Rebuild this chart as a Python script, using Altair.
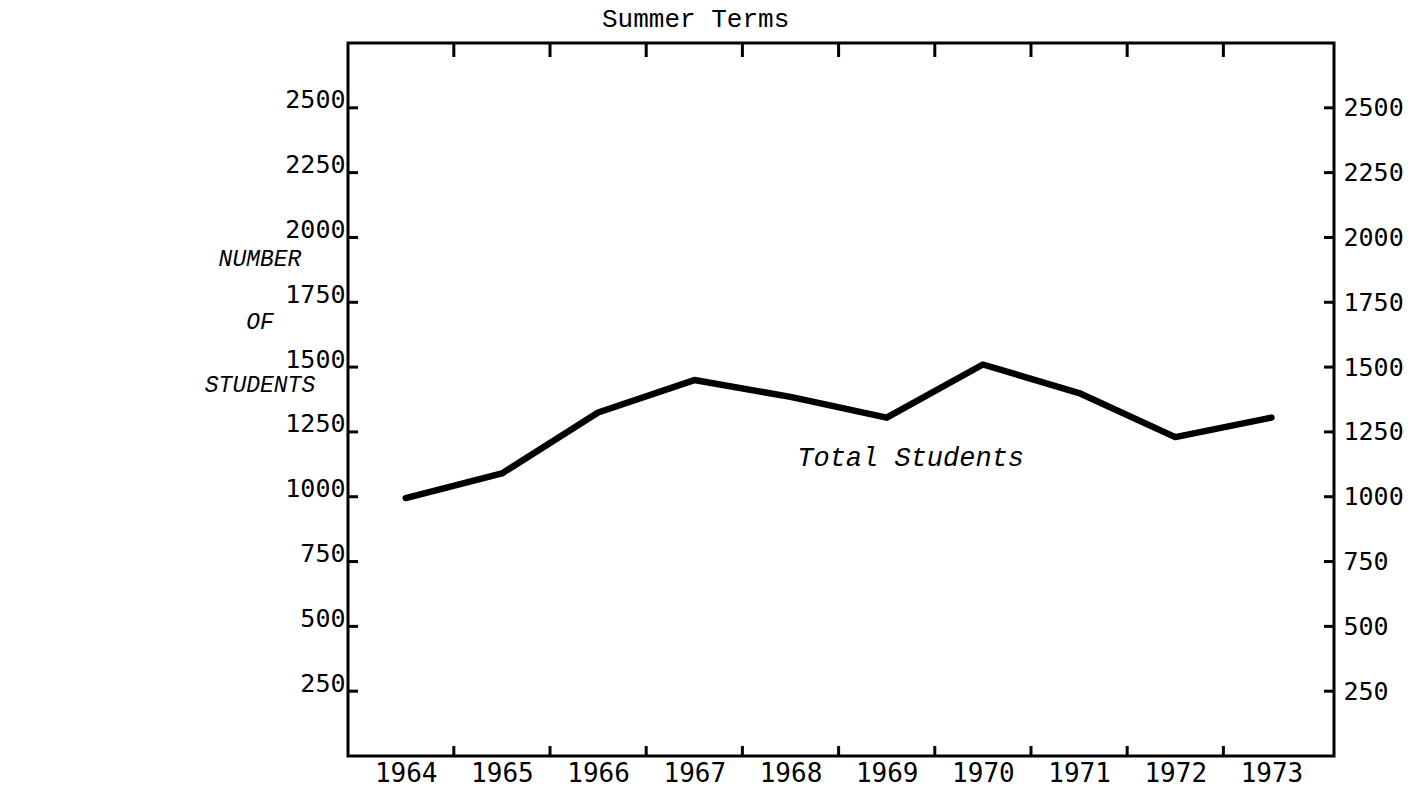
import altair as alt
import pandas as pd

# ---- data ----
years = [1964, 1965, 1966, 1967, 1968, 1969, 1970, 1971, 1972, 1973]
students = [995, 1090, 1325, 1450, 1385, 1305, 1510, 1400, 1230, 1305]
y_tick_values = [250, 500, 750, 1000, 1250, 1500, 1750, 2000, 2250, 2500]
x_tick_marks = [1964.5, 1965.5, 1966.5, 1967.5, 1968.5, 1969.5, 1970.5, 1971.5, 1972.5]
series_label = ["Total Students"]
side_label = ["NUMBER", "OF", "STUDENTS"]
chart_title = "Summer Terms"

W, H = 986, 713
xscale = alt.Scale(domain=[1963.4, 1973.65], nice=False, zero=False)
yscale = alt.Scale(domain=[0, 2750], nice=False, zero=False)

label_font = "DejaVu Sans Mono"
type_font = "Liberation Mono"

df = pd.DataFrame({"year": years, "students": students})
ydf = pd.DataFrame({"v": y_tick_values})
xdf = pd.DataFrame({"t": x_tick_marks})

line = alt.Chart(df).mark_line(
    color="black", strokeWidth=6.5, strokeCap="round", strokeJoin="round"
).encode(
    x=alt.X("year:Q", scale=xscale, title=None,
            axis=alt.Axis(values=years, format="d", ticks=False, domain=False, grid=False,
                          labelFont=label_font, labelFontSize=26, labelColor="black",
                          labelPadding=4, labelFlush=False, labelOverlap=False)),
    y=alt.Y("students:Q", scale=yscale, title=None,
            axis=alt.Axis(orient="left", values=y_tick_values, format="d", ticks=False,
                          domain=False, grid=False,
                          labelFont=label_font, labelFontSize=25, labelColor="black",
                          labelBaseline="alphabetic", labelPadding=3, labelOverlap=False,
                          labelFlush=False)),
)

right_ticks = alt.Chart(ydf).mark_rule(color="black", strokeWidth=3).encode(
    y=alt.Y("v:Q", scale=yscale, title=None,
            axis=alt.Axis(orient="right", values=y_tick_values, format="d", ticks=False,
                          domain=False, grid=False,
                          labelFont=label_font, labelFontSize=25, labelColor="black",
                          labelBaseline="middle", labelPadding=9, labelOverlap=False,
                          labelFlush=False)),
    x=alt.value(W - 10), x2=alt.value(W),
)

left_ticks = alt.Chart(ydf).mark_rule(color="black", strokeWidth=3).encode(
    y=alt.Y("v:Q", scale=yscale, axis=None),
    x=alt.value(0), x2=alt.value(10),
)

bottom_ticks = alt.Chart(xdf).mark_rule(color="black", strokeWidth=3).encode(
    x=alt.X("t:Q", scale=xscale, axis=None),
    y=alt.value(H), y2=alt.value(H - 10),
)

top_ticks = alt.Chart(xdf).mark_rule(color="black", strokeWidth=3).encode(
    x=alt.X("t:Q", scale=xscale, axis=None),
    y=alt.value(0), y2=alt.value(14),
)

ann_df = pd.DataFrame({"label": series_label, "ax": [1968.07], "ay": [1118]})
annotation = alt.Chart(ann_df).mark_text(
    font=type_font, fontStyle="italic", fontSize=27, align="left",
    baseline="alphabetic", color="black"
).encode(
    x=alt.X("ax:Q", scale=xscale, axis=None),
    y=alt.Y("ay:Q", scale=yscale, axis=None),
    text="label:N",
)

side = alt.Chart(pd.DataFrame({"d": [0]})).mark_text(
    font=type_font, fontStyle="italic", fontSize=23, align="center",
    baseline="middle", lineHeight=63, color="black"
).encode(
    x=alt.value(-88), y=alt.value(216),
    text=alt.value(side_label),
)

title = alt.Chart(pd.DataFrame({"d": [0]})).mark_text(
    font=type_font, fontSize=26, align="left", baseline="alphabetic", color="black"
).encode(
    x=alt.value(254), y=alt.value(-16),
    text=alt.value(chart_title),
)

chart = alt.layer(
    line, right_ticks, left_ticks, bottom_ticks, top_ticks, annotation, side, title
).resolve_axis(y="independent", x="independent").properties(
    width=W, height=H,
    padding={"left": 340, "top": 35, "right": 74, "bottom": 34},
    autosize=alt.AutoSizeParams(type="none"),
).configure(
    background="white"
).configure_view(
    stroke="black", strokeWidth=3
)

chart.save("out.html", embed_options={"renderer": "svg", "actions": False})
